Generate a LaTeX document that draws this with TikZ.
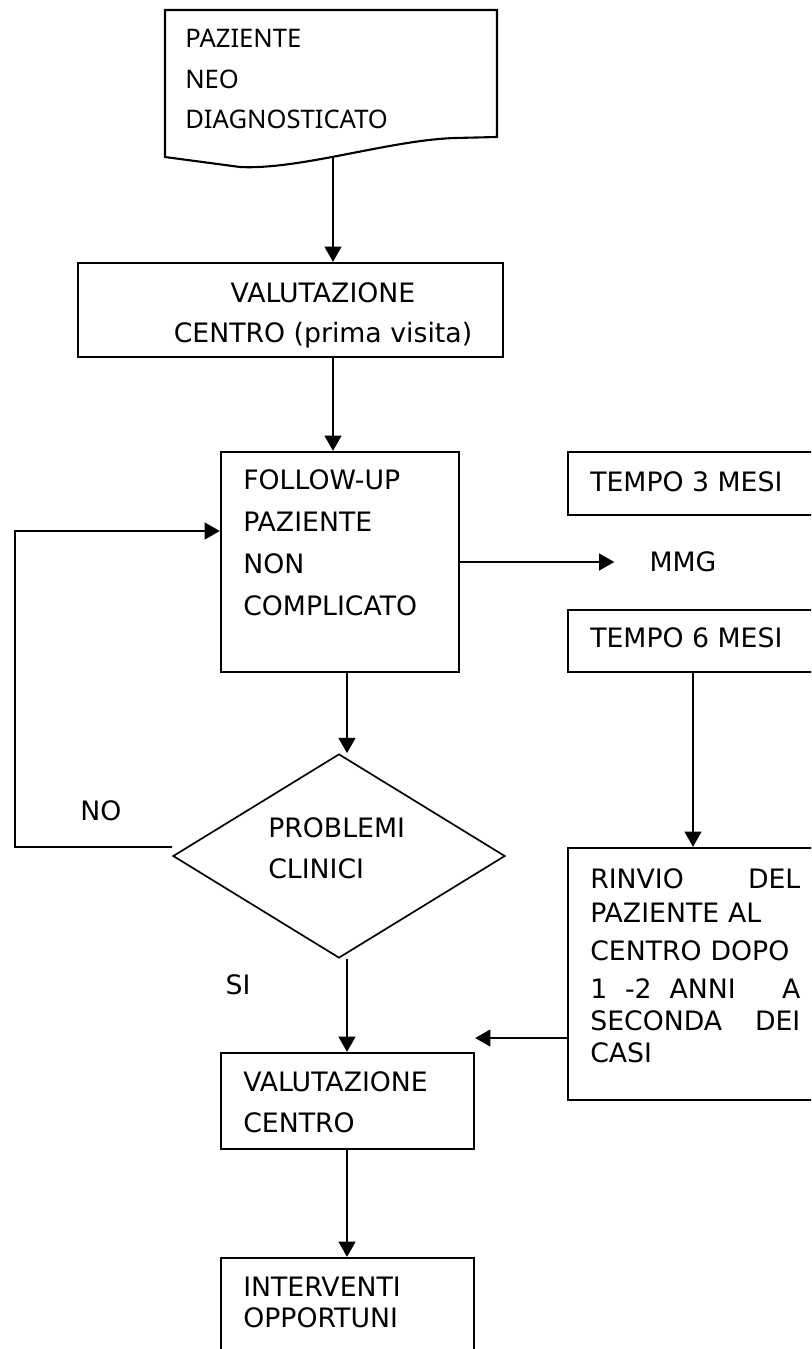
\documentclass[tikz,border=0pt]{standalone}
\usepackage{fontspec}
\setmainfont{DejaVu Sans}
\newfontfamily\docfont{Noto Sans}
\usetikzlibrary{arrows.meta,shapes.geometric}
\tikzset{
  flowbox/.style={draw, line width=1.6pt, inner sep=0pt},
  choice/.style={draw, diamond, line width=1.2pt, inner sep=0pt, aspect=1.63},
  txt/.style={inner sep=0pt, anchor=north west, align=left,
    font=\fontsize{19}{28.5}\selectfont},
  flow/.style={-{Triangle[length=0.38cm, width=0.42cm]}, line width=1.3pt},
}
\begin{document}
\begin{tikzpicture}[x=0.025cm, y=-0.025cm]
  \useasboundingbox (0,0) rectangle (811,1349);
  \clip (0,0) rectangle (811,1349);
  % paziente neo diagnosticato
  \draw[line width=1.5pt] (165,10) -- (497,10) -- (497,137) -- (455,138)
    .. controls (390,140) and (300,170) .. (240,167) -- (165,157) -- cycle;
  \coordinate (pazout) at (333,156);
  \node[txt, font=\docfont\fontsize{18.2}{28.8}\selectfont] (paz) at (185,29)
    {PAZIENTE\\NEO\\DIAGNOSTICATO};
  % prima visita
  \node[flowbox, minimum width=10.625cm, minimum height=2.35cm] (valc) at (290.5,310) {};
  \node[txt, anchor=center, align=center] (valctxt) at (323,315)
    {VALUTAZIONE\\CENTRO (prima visita)};
  % follow-up
  \node[flowbox, minimum width=5.95cm, minimum height=5.5cm] (fup) at (340,562) {};
  \node[txt, font=\fontsize{19}{29.9}\selectfont] (fuptxt) at (243,469)
    {FOLLOW-UP\\PAZIENTE\\NON\\COMPLICATO};
  \node[flowbox, minimum width=6.25cm, minimum height=1.575cm] (tre) at (693,483.5) {};
  \node[txt, anchor=west] (tretxt) at (590,482) {TEMPO 3 MESI};
  \node[flowbox, minimum width=6.25cm, minimum height=1.55cm] (sei) at (693,641) {};
  \node[txt, anchor=west] (seitxt) at (590,638) {TEMPO 6 MESI};
  \node[txt, anchor=center] (mmg) at (683,562) {MMG};
  % decisione
  \node[choice, minimum width=8.3cm, minimum height=5.1cm] (prob) at (339,856) {};
  \node[txt, font=\fontsize{19}{29.2}\selectfont] (probtxt) at (268,817)
    {PROBLEMI\\CLINICI};
  \node[txt, anchor=center] (no) at (101,811) {NO};
  \node[txt, anchor=center] (si) at (238,985) {SI};
  % rinvio al centro
  \node[flowbox, minimum width=6.25cm, minimum height=6.3cm] (rinv) at (693,974) {};
  \node[txt, text width=5.25cm, font=\fontsize{19}{22.8}\selectfont] (rinvtxt) at (590,868)
    {RINVIO\hfill DEL\\[1.4pt]PAZIENTE AL\\[4.2pt]CENTRO DOPO\\[4.2pt]1 \ -2 \ ANNI\hfill A\\SECONDA\hfill DEI\\CASI};
  % valutazione e interventi
  \node[flowbox, minimum width=6.325cm, minimum height=2.4cm] (valb) at (347.5,1101) {};
  \node[txt, font=\fontsize{19}{29.2}\selectfont] (valbtxt) at (243,1071)
    {VALUTAZIONE\\CENTRO};
  \node[flowbox, minimum width=6.325cm, minimum height=2.8cm] (interv) at (347.5,1314) {};
  \node[txt, font=\fontsize{19}{22}\selectfont] (intervtxt) at (243,1277)
    {INTERVENTI\\OPPORTUNI};

  \coordinate (spine) at (347,0);
  \coordinate (col) at (333,0);
  \coordinate (nocorner) at (15,847);
  \coordinate (back) at ([yshift=-1.6cm]rinv.west);

  \draw[flow] (pazout) -- (pazout |- valc.north);
  \draw[flow] (valc.south -| col) -- (fup.north -| col);
  \draw[flow] (fup.east) -- ([xshift=-0.875cm]mmg.west);
  \draw[flow] (fup.south -| spine) -- (prob.north -| spine);
  \draw[flow] ([yshift=0.225cm]prob.west) -- (nocorner) |- ([yshift=0.775cm]fup.west);
  \draw[flow] (prob.south -| spine) -- (valb.north -| spine);
  \draw[flow] (valb.south -| spine) -- (interv.north -| spine);
  \draw[flow] (sei.south) -- (rinv.north);
  \draw[flow] (back) -- (back -| valb.east);
\end{tikzpicture}
\end{document}
